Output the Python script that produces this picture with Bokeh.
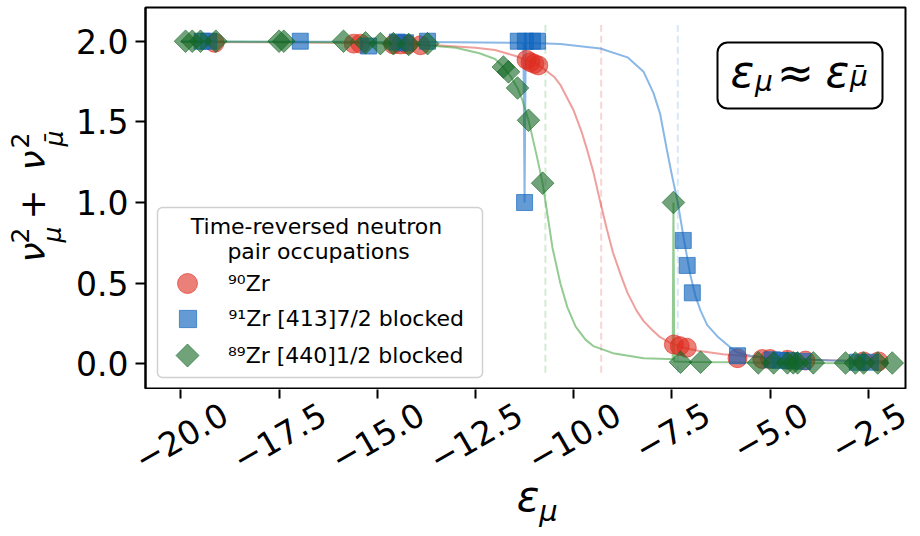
import numpy as np
from bokeh.plotting import figure
from bokeh.layouts import column, row
from bokeh.models import (Range1d, FixedTicker, Label, Legend, LegendItem,
                          BoxAnnotation, PolyAnnotation, CustomJSTickFormatter)
from bokeh.embed import file_html
from bokeh.resources import INLINE

# ---------------- data ----------------
fermi_90 = -9.30
fermi_91 = -7.35
fermi_89 = -10.72

zr90_x = [-19.14, -15.60, -15.43, -14.59, -14.41, -14.23, -13.90,
          -11.20, -11.10, -11.00, -10.90,
          -7.45, -7.30, -7.12, -5.83, -5.20, -5.00, -4.56, -4.10, -2.62, -2.24]
zr90_y = [1.99, 1.985, 1.985, 1.98, 1.98, 1.98, 1.975,
          1.885, 1.87, 1.86, 1.85,
          0.12, 0.11, 0.10, 0.035, 0.03, 0.03, 0.025, 0.02, 0.015, 0.015]

zr91_x = [-19.46, -19.29, -16.96, -15.22, -14.49, -14.28, -13.72,
          -11.41, -11.23, -11.05, -10.92, -11.25,
          -7.21, -7.11, -6.98, -5.83, -4.94, -4.74, -4.49, -4.17, -2.78, -2.45]
zr91_y = [2.0, 2.0, 2.0, 1.97, 1.995, 1.99, 2.0,
          2.0, 2.0, 2.0, 2.0, 1.0,
          0.765, 0.61, 0.44, 0.05, 0.025, 0.02, 0.02, 0.015, 0.01, 0.01]

zr89_x = [-19.88, -19.71, -19.50, -19.11, -17.50, -17.38, -15.86, -15.30, -14.92,
          -14.59, -14.20, -13.72,
          -11.79, -11.66, -11.43, -11.15, -10.79,
          -7.46, -7.28, -6.77, -5.30, -4.91, -4.56, -4.41, -4.30, -3.90,
          -3.08, -2.83, -2.62, -2.26, -1.89]
zr89_y = [2.0, 2.0, 2.0, 2.0, 2.0, 2.0, 2.0, 1.99, 1.985,
          1.985, 1.98, 1.985,
          1.84, 1.81, 1.71, 1.51, 1.12,
          1.0, 0.01, 0.01, 0.006, 0.006, 0.006, 0.006, 0.006, 0.006,
          0.005, 0.005, 0.005, 0.005, 0.005]

curve90_x = [-20.0, -18.0, -16.0, -14.5, -13.5, -12.5, -12.0, -11.5, -11.0, -10.77,
             -10.5, -10.34, -10.0, -9.8, -9.65, -9.5, -9.32, -9.15, -9.0, -8.8,
             -8.63, -8.4, -8.22, -8.0, -7.8, -7.54, -7.2, -6.8, -6.2, -5.5,
             -4.5, -3.5, -2.0]
curve90_y = [1.995, 1.993, 1.99, 1.985, 1.975, 1.96, 1.945, 1.91, 1.865, 1.83,
             1.78, 1.73, 1.57, 1.44, 1.32, 1.19, 1.0, 0.83, 0.69, 0.55,
             0.44, 0.33, 0.265, 0.21, 0.165, 0.13, 0.10, 0.08, 0.06, 0.045,
             0.03, 0.022, 0.016]

curve91_x = [-20.0, -16.0, -13.0, -11.28, -11.25, -11.22, -10.34, -9.32, -8.63,
             -8.22, -7.97, -7.8, -7.63, -7.5, -7.35, -7.2, -7.03, -6.9, -6.77,
             -6.6, -6.34, -6.0, -5.83, -5.5, -5.0, -4.0, -3.0, -2.0]
curve91_y = [1.998, 1.996, 1.993, 1.99, 1.0, 1.99, 1.983, 1.955, 1.90,
             1.81, 1.68, 1.55, 1.33, 1.17, 1.0, 0.78, 0.55, 0.42, 0.33,
             0.24, 0.17, 0.10, 0.07, 0.05, 0.035, 0.025, 0.018, 0.014]

curve89_x = [-20.0, -17.0, -15.0, -14.0, -13.0, -12.4, -12.0, -11.79, -11.6, -11.43,
             -11.3, -11.15, -10.95, -10.79, -10.67, -10.54, -10.34, -10.16, -9.95,
             -9.7, -9.5, -9.0, -8.22, -7.6, -7.48, -7.46, -7.44, -7.0, -6.0, -5.0,
             -4.0, -3.0, -2.0]
curve89_y = [1.998, 1.995, 1.99, 1.98, 1.96, 1.925, 1.89, 1.84, 1.78, 1.71,
             1.63, 1.51, 1.30, 1.12, 0.93, 0.72, 0.50, 0.35, 0.23,
             0.15, 0.11, 0.066, 0.035, 0.03, 0.03, 1.0, 0.014, 0.012, 0.009, 0.007,
             0.005, 0.004, 0.004]

x_ticks = [-20.0, -17.5, -15.0, -12.5, -10.0, -7.5, -5.0, -2.5]
x_tick_labels = ["\u221220.0", "\u221217.5", "\u221215.0", "\u221212.5",
                 "\u221210.0", "\u22127.5", "\u22125.0", "\u22122.5"]
y_ticks = [0.0, 0.5, 1.0, 1.5, 2.0]
y_tick_labels = ["0.0", "0.5", "1.0", "1.5", "2.0"]

legend_title = ["Time-reversed neutron", "pair occupations"]
legend_labels = ["\u2079\u2070Zr", "\u2079\u00b9Zr [413]7/2 blocked", "\u2078\u2079Zr [440]1/2 blocked"]

# ---------------- styles / layout ----------------
FONT = "DejaVu Sans"
RED, BLUE, GREEN = "#de2b1e", "#1165bd", "#116621"
RED_L, BLUE_L, GREEN_L = "#e0403a", "#4a90d9", "#3aa03a"

TOTAL_W, TOTAL_H = 920, 536
YLAB_W = 70                      # left strip holding the y-axis title
FRAME_L, FRAME_R, FRAME_T, FRAME_B = 145, 905, 7, 388   # page pixels of the plot frame
TOP_H = FRAME_B + 1              # main figure ends just below the frame
X0, X1 = -20.90, -1.553
Y0, Y1 = -0.153, 2.209
PPU = (FRAME_R - FRAME_L) / (X1 - X0)
EM_MID = 0.346                   # em-box middle above baseline (DejaVu Sans)

def lab(fig, text, x, y, size, align="center", baseline="middle", angle=0.0,
        style="normal", x_units="screen"):
    fig.add_layout(Label(x=x, y=y, x_units=x_units, y_units="screen", text=text,
                         text_font=FONT, text_font_size=f"{size}px", text_font_style=style,
                         text_color="black", text_align=align, text_baseline=baseline,
                         angle=angle))

def glyph(fig, conv, text, cx, cy, size, k, rotated=False, style="normal"):
    """place text so that its ink centre (k em above baseline) sits at page (cx, cy)"""
    d = (EM_MID - k) * size
    ax, ay = (cx - d, cy) if rotated else (cx, cy - d)
    gx, gy = conv(ax, ay)
    lab(fig, text, gx, gy, size, angle=(np.pi / 2 if rotated else 0.0), style=style)

K_X, K_MU, K_DIG, K_PLUS, K_MUBAR = 0.274, 0.17, 0.365, 0.315, 0.256

def conv_main(px, py):
    return px - FRAME_L, FRAME_B - py

# ---------------- main figure ----------------
p = figure(width=TOTAL_W - YLAB_W, height=TOP_H, title=None,
           x_range=Range1d(X0, X1), y_range=Range1d(Y0, Y1),
           output_backend="svg", toolbar_location=None, x_axis_location=None,
           min_border_left=FRAME_L - YLAB_W, min_border_right=TOTAL_W - FRAME_R,
           min_border_top=FRAME_T, min_border_bottom=TOP_H - FRAME_B)
p.background_fill_color = "white"
p.border_fill_color = "white"
p.outline_line_color = "black"
p.outline_line_width = 2
p.grid.visible = False

yax = p.yaxis[0]
yax.axis_line_color = "black"
yax.axis_line_width = 2
yax.major_tick_line_width = 2
yax.major_tick_line_color = "black"
yax.major_tick_out = 10
yax.major_tick_in = 0
yax.minor_tick_line_color = None
yax.ticker = FixedTicker(ticks=y_ticks)
yax.formatter = CustomJSTickFormatter(
    args=dict(yt=y_ticks, yl=y_tick_labels),
    code="const i = yt.findIndex(t => Math.abs(t - tick) < 1e-9); return i >= 0 ? yl[i] : '';")
yax.major_label_text_font = FONT
yax.major_label_text_font_size = "33px"
yax.major_label_text_color = "black"
yax.major_label_standoff = 7

# dashed Fermi levels
DASH_Y0, DASH_Y1 = -0.055, 2.10
for lam, col in ((fermi_89, GREEN_L), (fermi_90, RED_L), (fermi_91, BLUE_L)):
    p.segment(x0=[lam], y0=[DASH_Y0], x1=[lam], y1=[DASH_Y1], line_color=col,
              line_alpha=0.22, line_width=2, line_dash="7 4")

# curves
p.line(curve90_x, curve90_y, line_color=RED_L, line_alpha=0.5, line_width=2)
p.line(curve91_x, curve91_y, line_color=BLUE_L, line_alpha=0.65, line_width=2)
p.line(curve89_x, curve89_y, line_color=GREEN_L, line_alpha=0.55, line_width=2)

# markers
r90 = p.scatter(zr90_x, zr90_y, marker="circle", size=19, fill_color=RED, fill_alpha=0.6,
                line_color=RED, line_alpha=0.6, line_width=1)
r91 = p.scatter(zr91_x, zr91_y, marker="square", size=16, fill_color=BLUE, fill_alpha=0.65,
                line_color=BLUE, line_alpha=0.65, line_width=1)
r89 = p.scatter(zr89_x, zr89_y, marker="square", angle=np.pi / 4, size=16, fill_color=GREEN,
                fill_alpha=0.6, line_color=GREEN, line_alpha=0.6, line_width=1)

# text box  eps_mu ~ eps_mubar
has_radius = "border_radius" in BoxAnnotation.properties()
tb = BoxAnnotation(left=717 - FRAME_L, right=882 - FRAME_L, top=FRAME_B - 42,
                   bottom=FRAME_B - 108,
                   left_units="screen", right_units="screen", top_units="screen",
                   bottom_units="screen", fill_color="white", fill_alpha=1.0,
                   line_color="black", line_alpha=1.0, line_width=2,
                   **({"border_radius": 10} if has_radius else {}))
p.add_layout(tb)
glyph(p, conv_main, "\u03b5", 742, 74.5, 44, K_X, style="italic")
glyph(p, conv_main, "\u03bc", 763.5, 86, 28, K_MU, style="italic")
glyph(p, conv_main, "\u2248", 795, 73.5, 44, K_PLUS)
glyph(p, conv_main, "\u03b5", 837, 74.5, 44, K_X, style="italic")
glyph(p, conv_main, "\u03bc\u0304", 858.5, 79, 28, K_MUBAR, style="italic")

# legend frame + title
lb = BoxAnnotation(left=157 - FRAME_L, right=482 - FRAME_L, top=FRAME_B - 207,
                   bottom=FRAME_B - 377,
                   left_units="screen", right_units="screen", top_units="screen",
                   bottom_units="screen", fill_color="white", fill_alpha=0.8,
                   line_color="#d0d0d0", line_alpha=1.0, line_width=1.5,
                   **({"border_radius": 5} if has_radius else {}))
p.add_layout(lb)
lab(p, legend_title[0], 316 - FRAME_L, FRAME_B - 226, 22)
lab(p, legend_title[1], 318 - FRAME_L, FRAME_B - 251, 22)

# legend entries (one small legend per row so that symbol size and row pitch match)
LEG_X = 187
ROW_C = [283, 318, 355]
GLYPH = [50, 43, 48]
leg_rends = [r90, r91, r89]
leg_alpha = [1.0, 1.0, 0.0]       # the diamond symbol is drawn separately below
for lbl, rend, rc, g, a in zip(legend_labels, leg_rends, ROW_C, GLYPH, leg_alpha):
    item_r = rend
    if a == 0.0:
        item_r = p.scatter(x=np.array([np.nan]), y=np.array([np.nan]), marker="square",
                           size=1, fill_alpha=0.0, line_alpha=0.0)
    lg = Legend(items=[LegendItem(label=lbl, renderers=[item_r])],
                location=(LEG_X - g / 2 - FRAME_L, FRAME_B - (rc + g / 2)), padding=0, margin=0,
                glyph_width=g, glyph_height=g, label_height=g, spacing=0,
                label_standoff=int(round(228 - LEG_X - g / 2)), label_text_font=FONT,
                label_text_font_size="22px", label_text_color="black",
                background_fill_alpha=0.0, border_line_color=None)
    p.add_layout(lg, "center")

DIA_R = 11.5
dia = PolyAnnotation(xs=[LEG_X - FRAME_L, LEG_X + DIA_R - FRAME_L, LEG_X - FRAME_L,
                         LEG_X - DIA_R - FRAME_L],
                     ys=[FRAME_B - (ROW_C[2] - DIA_R), FRAME_B - ROW_C[2],
                         FRAME_B - (ROW_C[2] + DIA_R), FRAME_B - ROW_C[2]],
                     xs_units="screen", ys_units="screen", fill_color=GREEN, fill_alpha=0.6,
                     line_color=GREEN, line_alpha=0.6, line_width=1)
p.add_layout(dia)

# ---------------- left strip: y-axis title ----------------
yl = figure(width=YLAB_W, height=TOP_H, title=None, x_range=Range1d(0, 1),
            y_range=Range1d(0, 1), output_backend="svg", toolbar_location=None,
            x_axis_type=None, y_axis_type=None, min_border=0, min_border_left=0,
            min_border_right=0, min_border_top=0, min_border_bottom=0)
yl.outline_line_color = None
yl.grid.visible = False

def conv_left(px, py):
    return px, TOP_H - py

glyph(yl, conv_left, "\u03bd", 35, 253, 36, K_X, rotated=True, style="italic")
glyph(yl, conv_left, "2", 19, 236, 25, K_DIG, rotated=True)
glyph(yl, conv_left, "\u03bc", 56, 235, 25, K_MU, rotated=True, style="italic")
glyph(yl, conv_left, "+", 33, 205, 36, K_PLUS, rotated=True)
glyph(yl, conv_left, "\u03bd", 35, 161, 36, K_X, rotated=True, style="italic")
glyph(yl, conv_left, "2", 19, 141, 25, K_DIG, rotated=True)
glyph(yl, conv_left, "\u03bc\u0304", 56, 139, 25, K_MUBAR, rotated=True, style="italic")

# ---------------- bottom strip: x ticks (axis above, ticks inward), labels, title --------
BOT_H = TOTAL_H - TOP_H
xl = figure(width=TOTAL_W, height=BOT_H, title=None,
            x_range=Range1d(X0 - FRAME_L / PPU, X1 + (TOTAL_W - FRAME_R) / PPU),
            y_range=Range1d(0, 1), output_backend="svg", toolbar_location=None,
            x_axis_location="above", y_axis_type=None, min_border=0, min_border_left=0,
            min_border_right=0, min_border_top=0, min_border_bottom=0)
xl.outline_line_color = None
xl.grid.visible = False
xax = xl.xaxis[0]
xax.ticker = FixedTicker(ticks=x_ticks)
xax.formatter = CustomJSTickFormatter(code="return ''")
xax.major_label_text_font_size = "1px"
xax.major_label_standoff = 0
xax.major_tick_out = 0
xax.major_tick_in = 9
xax.major_tick_line_width = 2
xax.major_tick_line_color = "black"
xax.minor_tick_line_color = None
xax.axis_line_color = None

def conv_bottom(px, py):
    return px, TOTAL_H - py

F_TICK = 33
for t, s in zip(x_ticks, x_tick_labels):
    em = sum({"\u2212": 0.838, ".": 0.318}.get(c, 0.636) for c in s)
    cy = FRAME_B + 12 + (em * F_TICK * 0.5 + 0.73 * F_TICK * 0.866) / 2
    lab(xl, s, t, TOTAL_H - cy, F_TICK, angle=np.pi / 6, x_units="data")

glyph(xl, conv_bottom, "\u03b5", 527.5, 499.5, 42, K_X, style="italic")
glyph(xl, conv_bottom, "\u03bc", 548, 516, 29, K_MU, style="italic")

layout = column(row(yl, p, spacing=0), xl, spacing=0)
open("out.html", "w").write(file_html(layout, INLINE))
